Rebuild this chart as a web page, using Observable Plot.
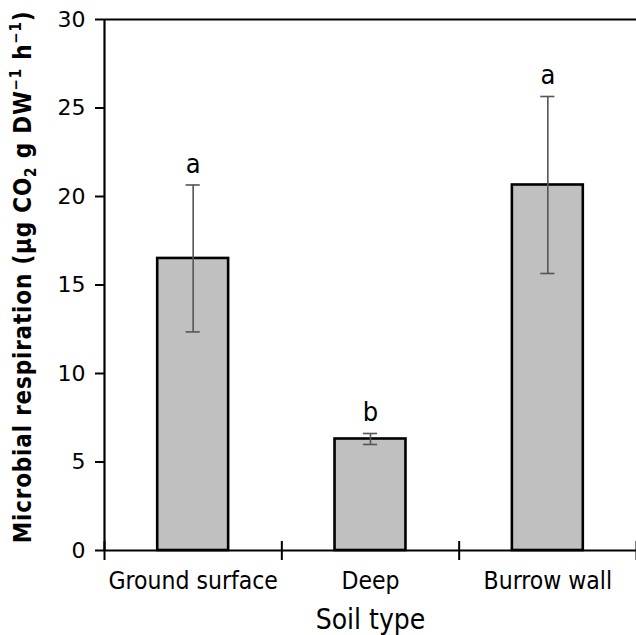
<!DOCTYPE html>
<html>
<head>
<meta charset="utf-8">
<script src="https://cdn.jsdelivr.net/npm/d3@7"></script>
<script src="https://cdn.jsdelivr.net/npm/@observablehq/plot@0.6"></script>
<style>
  html, body { margin: 0; padding: 0; background: #fff; }
</style>
</head>
<body>
<div id="chart"></div>
<script>
const categories = ["Ground surface", "Deep", "Burrow wall"];
const means = [16.5, 6.3, 20.65];
const errors = [4.15, 0.31, 5.0];
const letters = ["a", "b", "a"];
const yTicks = [0, 5, 10, 15, 20, 25, 30];

const rows = categories.map((c, i) => ({
  i, category: c, mean: means[i], err: errors[i], letter: letters[i],
  lo: means[i] - errors[i], hi: means[i] + errors[i]
}));

const condFont = "'DejaVu Sans Condensed', 'DejaVu Sans', sans-serif";
const tickFont = "'DejaVu Sans', sans-serif";

const plot = Plot.plot({
  width: 636,
  height: 635,
  marginLeft: 104,
  marginRight: 0,
  marginTop: 19,
  marginBottom: 85,
  style: { fontFamily: condFont, background: "#fff", overflow: "visible" },
  x: { domain: [0, categories.length], axis: null },
  y: { domain: [0, 30], axis: null },
  marks: [
    Plot.rectY(rows, {
      x1: d => d.i + 0.3, x2: d => d.i + 0.7, y: "mean",
      fill: "#c0c0c0", stroke: "#000", strokeWidth: 2.6
    }),
    Plot.ruleX(rows, {
      x: d => d.i + 0.5, y1: "lo", y2: "hi",
      stroke: "#555", strokeWidth: 1.6
    }),
    Plot.ruleY(rows, {
      x1: d => d.i + 0.46, x2: d => d.i + 0.54, y: "hi",
      stroke: "#555", strokeWidth: 1.6
    }),
    Plot.ruleY(rows, {
      x1: d => d.i + 0.46, x2: d => d.i + 0.54, y: "lo",
      stroke: "#555", strokeWidth: 1.6
    }),
    Plot.text(rows, {
      x: d => d.i + 0.5, y: "hi", text: "letter",
      dy: -21, fontSize: 27, fill: "#000", fontFamily: condFont
    }),
    Plot.ruleY([0], { stroke: "#000", strokeWidth: 2.2 }),
    Plot.ruleY([30], { stroke: "#000", strokeWidth: 2.2 }),
    Plot.ruleX([0], { stroke: "#000", strokeWidth: 2.2 }),
    Plot.ruleX(d3.range(categories.length + 1), {
      x: d => d, y1: 0, y2: 0, insetTop: -9, insetBottom: -10,
      stroke: "#000", strokeWidth: 2
    }),
    Plot.axisY({
      ticks: yTicks, tickSize: 9, tickPadding: 10, fontSize: 22,
      stroke: "#000", strokeWidth: 2, label: null, fill: "#000", fontFamily: tickFont
    }),
    Plot.axisX({
      ticks: rows.map(d => d.i + 0.5), tickSize: 0, tickPadding: 21,
      tickFormat: v => categories[Math.floor(v)], fontSize: 24.5,
      label: null, fill: "#000", fontFamily: condFont
    }),
    Plot.text(["Soil type"], {
      frameAnchor: "bottom", dy: 78, text: d => d,
      fontSize: 28, fill: "#000", fontFamily: condFont
    })
  ]
});

document.getElementById("chart").appendChild(plot);

const svg = d3.select(plot);
const t = svg.append("text")
  .attr("transform", "translate(31,277) rotate(-90)")
  .attr("text-anchor", "middle")
  .attr("font-family", condFont)
  .attr("font-weight", "bold")
  .attr("font-size", 24)
  .attr("letter-spacing", 0.8)
  .attr("fill", "#000");
t.append("tspan").text("Microbial respiration (μg CO");
t.append("tspan").attr("font-size", 15).attr("dy", 5).text("2");
t.append("tspan").attr("dy", -5).text(" g DW");
t.append("tspan").attr("font-size", 15).attr("dy", -10).text("−1");
t.append("tspan").attr("dy", 10).text(" h");
t.append("tspan").attr("font-size", 15).attr("dy", -10).text("−1");
t.append("tspan").attr("dy", 10).text(")");
</script>
</body>
</html>
